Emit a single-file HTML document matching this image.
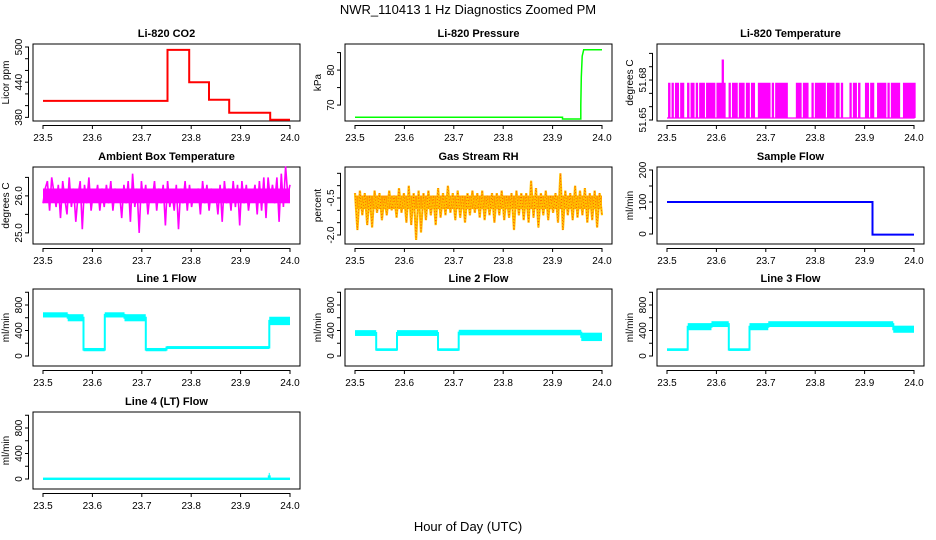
<!DOCTYPE html>
<html><head><meta charset="utf-8"><style>
body{margin:0;background:#fff}
svg{display:block;font-family:"Liberation Sans",sans-serif}
</style></head><body>
<svg id="c" width="936" height="540" viewBox="0 0 936 540">
<text x="468" y="14" font-size="13" text-anchor="middle">NWR_110413  1 Hz Diagnostics Zoomed PM</text>
<text x="468" y="531" font-size="13" text-anchor="middle">Hour of Day (UTC)</text>
</svg>
<script>
const xTicks=[23.5,23.6,23.7,23.8,23.9,24.0];
const xTickLabels=["23.5","23.6","23.7","23.8","23.9","24.0"];
const co2Steps=[[23.5,23.752,408],[23.752,23.796,495],[23.796,23.836,440],[23.836,23.877,410],[23.877,23.96,388],[23.96,24.0,376]];
const pressurePts=[[23.5,66.5],[23.92,66.5],[23.92,66],[23.957,66],[23.957,70],[23.958,78],[23.96,84],[23.963,85.8],[24.0,85.8]];
const tempLow=51.6515, tempHigh=51.6775, tempSpike=51.695, tempSpikeAt=23.612;
const tempStates="010101101100101101011101111101111100101110111011011001111111010111111100000111011100101111110111101101000010110100011011001111101011111001111111";
const ambientCore=[25.8,26.2];
const ambientVals=[25.8,26.2,26.4,25.6,26.5,26.1,25.7,26.3,25.4,26.4,25.9,25.5,26.5,25.7,26.2,25.3,26.0,26.4,25.1,26.3,25.8,26.5,25.6,26.1,25.9,26.3,25.6,26.2,25.7,26.3,25.8,26.4,25.6,26.2,25.9,26.1,25.4,26.3,25.8,26.4,25.3,26.6,25.7,26.2,25.0,26.4,25.8,26.3,25.5,26.1,25.9,26.4,25.6,26.2,25.8,26.3,25.2,26.4,25.7,26.1,25.6,26.3,25.1,26.2,25.8,26.4,25.6,26.3,25.7,26.1,25.9,26.2,25.5,26.4,25.8,26.3,25.6,26.2,25.9,26.1,25.5,26.3,25.3,26.4,25.8,26.2,25.6,26.4,25.7,26.3,25.2,26.4,25.8,26.3,25.6,26.1,25.9,26.3,25.5,26.4,25.6,26.5,25.4,26.5,25.9,26.3,25.8,26.5,25.3,26.6,25.7,26.8,26.0,26.3];
const rhCore=[-0.95,-0.4];
const rhVals=[-0.3,-1.8,-0.2,-1.2,-0.3,-1.6,-0.4,-1.7,-0.2,-1.1,-0.3,-1.4,-0.5,-1.2,-0.2,-1.0,-0.4,-1.3,-0.1,-1.1,-0.3,-1.5,0.0,-1.6,-0.3,-2.2,-0.2,-1.9,-0.3,-1.4,-0.2,-1.2,-0.4,-1.6,-0.1,-1.3,-0.3,-1.2,0.0,-1.1,-0.3,-1.4,-0.2,-1.3,-0.4,-1.5,-0.3,-1.2,-0.2,-1.1,-0.3,-1.3,-0.2,-1.4,-0.4,-1.2,-0.3,-1.5,-0.3,-1.2,-0.2,-1.4,-0.4,-1.3,-0.3,-1.8,-0.2,-1.2,-0.3,-1.4,-0.3,-1.5,0.2,-1.3,-0.1,-1.7,-0.3,-1.2,-0.2,-1.4,-0.4,-1.1,-0.3,-1.5,0.5,-1.8,-0.2,-1.2,-0.3,-1.4,0.0,-1.3,-0.2,-1.2,-0.1,-1.5,-0.3,-1.4,-0.2,-1.7,-0.3,-1.2];
const sampleFlowPts=[[23.5,100],[23.916,100],[23.916,-2],[24.0,-2]];
const line1Segs=[[23.5,23.55,620,670],[23.55,23.582,560,640],[23.582,23.625,90,110],[23.625,23.665,620,670],[23.665,23.708,560,640],[23.708,23.75,90,110],[23.75,23.958,125,140],[23.958,24.0,500,600]];
const line2Segs=[[23.5,23.543,330,390],[23.543,23.585,95,105],[23.585,23.668,330,390],[23.668,23.71,95,105],[23.71,23.958,340,395],[23.958,24.0,250,350]];
const line3Segs=[[23.5,23.542,95,105],[23.542,23.59,420,500],[23.59,23.625,470,530],[23.625,23.667,95,105],[23.667,23.705,420,500],[23.705,23.958,470,530],[23.958,24.0,380,460]];
const line4Segs=[[23.5,23.957,0,5],[23.957,23.959,0,80],[23.959,24.0,0,5]];

const svg=document.getElementById('c');
const NS="http://www.w3.org/2000/svg";
function mk(tag,attrs,parent){const e=document.createElementNS(NS,tag);for(const k in attrs)e.setAttribute(k,attrs[k]);(parent||svg).appendChild(e);return e;}
const colX=[33,345,657], rowY=[44,167,289,412], W=267, H=77;

function panel(col,row,title,ylab,dom,ticks,labels){
  const x0=colX[col], y0=rowY[row];
  const g=mk('g',{});
  
  
  const sx=v=>x0+10+(v-23.5)/0.5*247;
  const sy=v=>(y0+H-3)-(v-dom[0])/(dom[1]-dom[0])*(H-6);
  const b=mk('rect',{x:x0,y:y0,width:W,height:H,fill:'none',stroke:'#000','stroke-width':1},g);
  
  
  const t=mk('text',{x:x0+W/2,y:y0-7,'font-size':11,'font-weight':'bold','text-anchor':'middle'},g);t.textContent=title;
  
  
  const yt=mk('text',{transform:`translate(${x0-24},${y0+H/2}) rotate(-90)`,'font-size':10,'text-anchor':'middle'},g);yt.textContent=ylab;
  
  
  mk('line',{x1:sx(23.5),x2:sx(24),y1:y0+H+4.5,y2:y0+H+4.5,stroke:'#000'},g);
  xTicks.forEach((v,i)=>{mk('line',{x1:sx(v),x2:sx(v),y1:y0+H+4,y2:y0+H+8,stroke:'#000'},g);
    const l=mk('text',{x:sx(v),y:y0+H+20,'font-size':10,'text-anchor':'middle'},g);l.textContent=xTickLabels[i];
    
    });
  mk('line',{x1:x0-4.5,x2:x0-4.5,y1:sy(ticks[0]),y2:sy(ticks[ticks.length-1]),stroke:'#000'},g);
  ticks.forEach((v,i)=>{mk('line',{x1:x0-8,x2:x0-4,y1:sy(v),y2:sy(v),stroke:'#000'},g);
    if(labels[i]){const l=mk('text',{transform:`translate(${x0-11},${sy(v)}) rotate(-90)`,'font-size':10,'text-anchor':'middle'},g);l.textContent=labels[i];
    
    }});
  return {g,sx,sy};
}
function poly(p,pts,color,w){const s=mk('polyline',{points:pts.map(q=>p.sx(q[0]).toFixed(1)+','+p.sy(q[1]).toFixed(1)).join(' '),fill:'none',stroke:color,'stroke-width':w},p.g);
  
  return s;}
function band(p,lo,hi,color){const r=mk('rect',{x:p.sx(23.5),y:p.sy(hi),width:p.sx(24)-p.sx(23.5),height:p.sy(lo)-p.sy(hi),fill:color},p.g);
  
  }
function segs(p,arr,color){
  const pts=[];arr.forEach(s=>{const m=(s[2]+s[3])/2;pts.push([s[0],m],[s[1],m]);
    const r=mk('rect',{x:p.sx(s[0]),y:p.sy(s[3])-1,width:Math.max(1,p.sx(s[1])-p.sx(s[0])),height:p.sy(s[2])-p.sy(s[3])+2,fill:color},p.g);
    
    });
  poly(p,pts,color,2);
}
function evenPts(vals){return vals.map((v,i)=>[23.5+0.5*i/(vals.length-1),v]);}

let p=panel(0,0,'Li-820 CO2','Licor ppm',[378.9,500],[380,400,420,440,460,480,500],['380','','','440','','','500']);
const cp=[];co2Steps.forEach(s=>{cp.push([s[0],s[2]],[s[1],s[2]]);});poly(p,cp,'#ff0000',2);

p=panel(1,0,'Li-820 Pressure','kPa',[66.3,86.6],[70,75,80,85],['70','','80','']);
poly(p,pressurePts,'#00ff00',1.5);

p=panel(2,0,'Li-820 Temperature','degrees C',[51.6515,51.7048],[51.65,51.66,51.67,51.68,51.69,51.70],['51.65','','','51.68','','']);
const n=tempStates.length;
const tpp=[];for(let i=0;i<n;i++){const x=23.5+0.5*i/(n-1);const v=tempStates[i]==='1'?tempHigh:tempLow;tpp.push([x,tempLow],[x,v],[x+0.5/(n-1)*0.6,v],[x+0.5/(n-1)*0.6,tempLow]);}
poly(p,tpp,'#ff00ff',1.3);
poly(p,[[tempSpikeAt,tempLow],[tempSpikeAt,tempSpike],[tempSpikeAt+0.002,tempSpike],[tempSpikeAt+0.002,tempLow]],'#ff00ff',1.3);

p=panel(0,1,'Ambient Box Temperature','degrees C',[24.78,26.70],[25,25.5,26,26.5],['25.0','','26.0','']);
band(p,ambientCore[0],ambientCore[1],'#ff00ff');
poly(p,evenPts(ambientVals),'#ff00ff',1.6);

p=panel(1,1,'Gas Stream RH','percent',[-2.243,0.635],[-2,-1.5,-1,-0.5,0,0.5],['-2.0','','','-0.5','','']);
band(p,rhCore[0],rhCore[1],'#ff9a00');
poly(p,evenPts(rhVals),'#ffc000',2.2);
poly(p,evenPts(rhVals),'#ff3000',0.6).setAttribute('stroke-dasharray','1 2');

p=panel(2,1,'Sample Flow','ml/min',[-21.9,200],[0,50,100,150,200],['0','','100','','200']);
poly(p,sampleFlowPts,'#0000ff',2);

const fl=[-110,1004],ft=[0,200,400,600,800,1000],flb=['0','','400','','800',''];
p=panel(0,2,'Line 1 Flow','ml/min',fl,ft,flb);segs(p,line1Segs,'#00ffff');
p=panel(1,2,'Line 2 Flow','ml/min',fl,ft,flb);segs(p,line2Segs,'#00ffff');
p=panel(2,2,'Line 3 Flow','ml/min',fl,ft,flb);segs(p,line3Segs,'#00ffff');
p=panel(0,3,'Line 4 (LT) Flow','ml/min',fl,ft,flb);segs(p,line4Segs,'#00ffff');
</script>
</body></html>
